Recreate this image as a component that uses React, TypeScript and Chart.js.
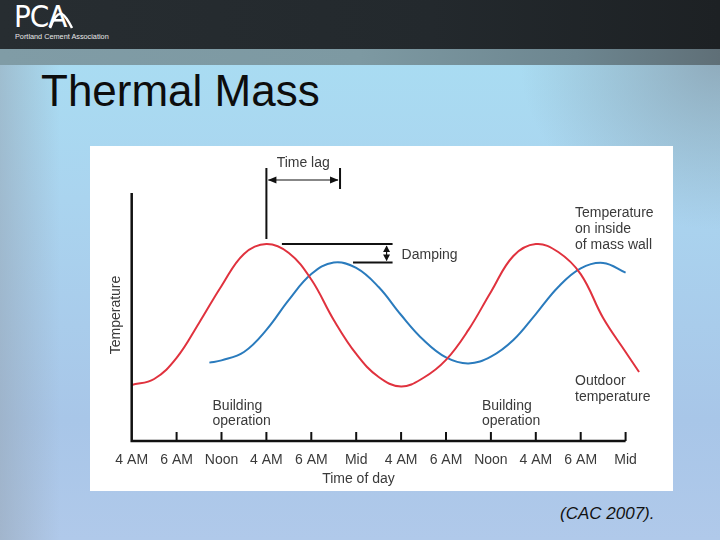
import React, { useEffect, useRef } from "react";
import { Chart, registerables } from "chart.js";

Chart.register(...registerables);

// ---- data ----
const tickLabels = ["4 AM", "6 AM", "Noon", "4 AM", "6 AM", "Mid", "4 AM", "6 AM", "Noon", "4 AM", "6 AM", "Mid"];

const outdoorX = [0, 0.5, 1, 1.5, 2, 2.5, 3, 3.5, 4, 4.5, 5, 5.5, 6, 6.5, 7, 7.5, 8, 8.5, 9, 9.5, 10, 10.5, 11, 11.3];
const outdoorTemp = [22.6, 25.0, 33.5, 47.6, 62.5, 75.4, 79.4, 75.8, 65.1, 48.8, 35.1, 25.8, 22.0, 25.5, 32.7, 44.8, 60.1, 74.6, 79.4, 76.2, 67.3, 49.6, 35.9, 27.8];

const insideX = [1.73, 2, 2.5, 3, 3.5, 4, 4.5, 5, 5.5, 6, 6.5, 7, 7.5, 8, 8.5, 9, 9.5, 10, 10.5, 11];
const insideTemp = [31.6, 32.5, 35.9, 44.8, 56.9, 67.3, 72.0, 69.8, 62.1, 50.8, 40.7, 33.7, 31.3, 34.0, 40.7, 51.2, 62.1, 69.6, 71.8, 67.9];

const outdoorPeakX = 3;
const insidePeakX = 4.64;

const xAxisTitle = "Time of day";
const yAxisTitle = "Temperature";
const insideLabel = ["Temperature", "on inside", "of mass wall"];
const outdoorLabel = ["Outdoor", "temperature"];
const buildingLabel = ["Building", "operation"];
const buildingX = [1.8, 7.8];

const FONT = '14px "Liberation Sans", Arial, sans-serif';
const TEXT = "#3a3a3a";

const decorPlugin = {
  id: "decor",
  afterDraw(chart: any) {
    const { ctx, scales } = chart;
    const xs = scales.x;
    const ys = scales.y;
    const X = (v: number) => xs.getPixelForValue(v);
    const Y = (v: number) => ys.getPixelForValue(v);
    const y0 = Y(0);
    const outdoorPeak = Math.max(...outdoorTemp);
    const insidePeak = Math.max(...insideTemp);

    ctx.save();
    // axes
    ctx.strokeStyle = "#111";
    ctx.lineWidth = 2.5;
    ctx.beginPath();
    ctx.moveTo(X(0), Y(100));
    ctx.lineTo(X(0), y0);
    ctx.lineTo(X(tickLabels.length - 1), y0);
    ctx.stroke();
    // tick marks (inward)
    ctx.lineWidth = 2;
    ctx.beginPath();
    for (let i = 1; i < tickLabels.length; i++) {
      ctx.moveTo(X(i), y0);
      ctx.lineTo(X(i), y0 - 9);
    }
    ctx.stroke();

    // tick labels
    ctx.fillStyle = TEXT;
    ctx.font = FONT;
    ctx.textAlign = "center";
    ctx.textBaseline = "alphabetic";
    tickLabels.forEach((t, i) => ctx.fillText(t, X(i), y0 + 23));
    ctx.fillText(xAxisTitle, X(5.05), y0 + 42);

    // y title
    ctx.save();
    ctx.translate(X(0) - 12, (Y(0) + Y(100)) / 2 - 2);
    ctx.rotate(-Math.PI / 2);
    ctx.fillText(yAxisTitle, 0, 0);
    ctx.restore();

    // time lag annotation
    const xa = X(outdoorPeakX);
    const xb = X(insidePeakX);
    const topY = 22;
    const arrowY = 34;
    ctx.strokeStyle = "#111";
    ctx.fillStyle = "#111";
    ctx.lineWidth = 2;
    ctx.beginPath();
    ctx.moveTo(xa, topY);
    ctx.lineTo(xa, Y(outdoorPeak) - 5);
    ctx.moveTo(xb, topY);
    ctx.lineTo(xb, topY + 21);
    ctx.stroke();
    ctx.lineWidth = 1.2;
    ctx.beginPath();
    ctx.moveTo(xa + 2, arrowY);
    ctx.lineTo(xb - 2, arrowY);
    ctx.stroke();
    ctx.beginPath();
    ctx.moveTo(xa + 1.5, arrowY);
    ctx.lineTo(xa + 10, arrowY - 3.5);
    ctx.lineTo(xa + 10, arrowY + 3.5);
    ctx.closePath();
    ctx.moveTo(xb - 1.5, arrowY);
    ctx.lineTo(xb - 10, arrowY - 3.5);
    ctx.lineTo(xb - 10, arrowY + 3.5);
    ctx.closePath();
    ctx.fill();
    ctx.fillStyle = TEXT;
    ctx.textAlign = "center";
    ctx.fillText("Time lag", (xa + xb) / 2, 21);

    // damping annotation
    const yp = Y(outdoorPeak);
    const yq = Y(insidePeak);
    const xEnd = X(5.81);
    ctx.strokeStyle = "#111";
    ctx.fillStyle = "#111";
    ctx.lineWidth = 2;
    ctx.beginPath();
    ctx.moveTo(xa + 15.5, yp);
    ctx.lineTo(xEnd, yp);
    ctx.moveTo(xb + 13, yq);
    ctx.lineTo(xEnd, yq);
    ctx.stroke();
    const xd = xEnd - 6;
    ctx.lineWidth = 1.2;
    ctx.beginPath();
    ctx.moveTo(xd, yp + 2);
    ctx.lineTo(xd, yq - 2);
    ctx.stroke();
    ctx.beginPath();
    ctx.moveTo(xd, yp + 1.5);
    ctx.lineTo(xd - 3.5, yp + 8);
    ctx.lineTo(xd + 3.5, yp + 8);
    ctx.closePath();
    ctx.moveTo(xd, yq - 1.5);
    ctx.lineTo(xd - 3.5, yq - 8);
    ctx.lineTo(xd + 3.5, yq - 8);
    ctx.closePath();
    ctx.fill();
    ctx.fillStyle = TEXT;
    ctx.textAlign = "left";
    ctx.fillText("Damping", xEnd + 9, yq - 3);

    // series labels
    const lx = 485;
    insideLabel.forEach((t, i) => ctx.fillText(t, lx, 70.7 + i * 16.2));
    outdoorLabel.forEach((t, i) => ctx.fillText(t, lx, 239 + i * 16));
    buildingX.forEach((bx) => {
      buildingLabel.forEach((t, i) => ctx.fillText(t, X(bx), y0 - 31.5 + i * 15.5));
    });
    ctx.restore();
  },
};

function ThermalChart() {
  const ref = useRef<HTMLCanvasElement | null>(null);
  useEffect(() => {
    if (!ref.current) return;
    const chart = new Chart(ref.current, {
      type: "line",
      data: {
        datasets: [
          {
            label: "Outdoor temperature",
            data: outdoorX.map((x, i) => ({ x, y: outdoorTemp[i] })),
            borderColor: "#e0323e",
            borderWidth: 2,
            pointRadius: 0,
            tension: 0.4,
            fill: false,
          },
          {
            label: "Temperature on inside of mass wall",
            data: insideX.map((x, i) => ({ x, y: insideTemp[i] })),
            borderColor: "#2a7bbd",
            borderWidth: 2,
            pointRadius: 0,
            tension: 0.4,
            fill: false,
          },
        ],
      },
      options: {
        responsive: false,
        animation: false,
        events: [],
        layout: { padding: { left: 41.7, right: 24.95, top: 47, bottom: 50 } },
        scales: {
          x: { type: "linear", min: 0, max: 11.5, display: false },
          y: { type: "linear", min: 0, max: 100, display: false },
        },
        plugins: { legend: { display: false }, tooltip: { enabled: false } },
      },
      plugins: [decorPlugin],
    } as any);
    return () => chart.destroy();
  }, []);
  return <canvas ref={ref} width={583} height={345} style={{ display: "block", width: 583, height: 345 }} />;
}

export default function App() {
  useEffect(() => {
    document.body.style.margin = "0";
  }, []);
  return (
    <div
      style={{
        position: "relative",
        width: 720,
        height: 540,
        overflow: "hidden",
        fontFamily: '"Liberation Sans", Arial, sans-serif',
        background:
          "linear-gradient(90deg, rgba(150,165,180,0.55) 0px, rgba(150,165,180,0) 60px), radial-gradient(ellipse 200px 170px at 720px 60px, rgba(135,155,170,0.75), rgba(135,155,170,0) 100%), linear-gradient(180deg, #a9dcf2 60px, #aad4ef 200px, #a8c6e8 420px, #b0c9ea 540px)",
      }}
    >
      <div style={{ position: "absolute", left: 0, top: 0, width: 720, height: 49, background: "linear-gradient(90deg, #272d31, #23292d 60%, #1d2124)" }}>
        <div style={{ position: "absolute", left: 14, top: 1, color: "#fff", fontSize: 31, lineHeight: "31px", fontFamily: '"Liberation Sans Narrow", "DejaVu Sans Condensed", sans-serif', letterSpacing: -1 }}>PCA</div>
        <svg style={{ position: "absolute", left: 40, top: 6 }} width={40} height={24}>
          <path d="M10 22 Q 16 6 22 8 Q 26 10 32 22" stroke="#fff" strokeWidth={2.5} fill="none" />
        </svg>
        <div style={{ position: "absolute", left: 15, top: 33, color: "#e8e8e8", fontSize: 7.3, lineHeight: "8px", whiteSpace: "nowrap" }}>Portland Cement Association</div>
      </div>
      <div style={{ position: "absolute", left: 0, top: 49, width: 720, height: 16, background: "linear-gradient(90deg, #809ca6, #7d99a2 50%, #6d8690 80%, #5f6f77)" }} />
      <div style={{ position: "absolute", left: 41, top: 69.3, fontSize: 44, lineHeight: "44px", color: "#0d0d0d", whiteSpace: "nowrap" }}>Thermal Mass</div>
      <div style={{ position: "absolute", left: 90, top: 146, width: 583, height: 345, background: "#fff" }}>
        <ThermalChart />
      </div>
      <div style={{ position: "absolute", left: 560, top: 505, fontSize: 17, lineHeight: "17px", fontStyle: "italic", color: "#111", whiteSpace: "nowrap" }}>(CAC 2007).</div>
    </div>
  );
}
